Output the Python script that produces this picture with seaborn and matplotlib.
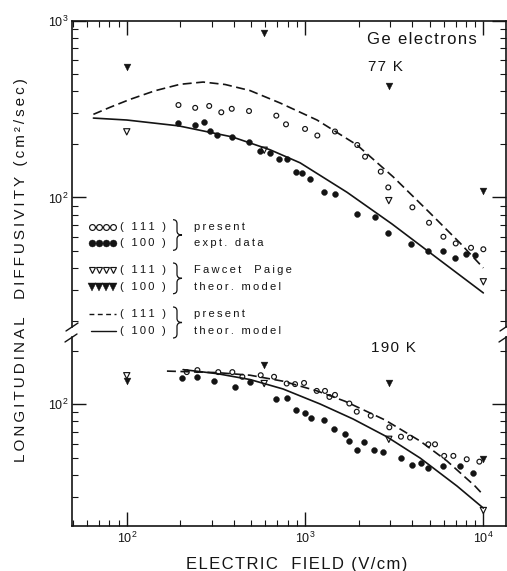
import numpy as np
import pandas as pd
import matplotlib
matplotlib.use("Agg")
import matplotlib.pyplot as plt
from matplotlib.path import Path
from matplotlib.patches import PathPatch
from matplotlib.lines import Line2D
from matplotlib.ticker import LogLocator, NullFormatter
import seaborn as sns

# ---------------- 77 K ----------------
# present experimental data, <111> (open circles) and <100> (filled circles)
e77_111_field = [195, 242, 290, 339, 388, 485, 690, 782, 1000, 1172, 1472, 1963, 2171, 2659,
                 2930, 4000, 4960, 5970, 7000, 8530, 10000]
e77_111_diff = [333, 321, 329, 303, 317, 308, 290, 259, 244, 224, 236, 198, 170, 140,
                114, 88, 72, 60, 55, 52, 51]
e77_100_field = [195, 242, 272, 293, 320, 388, 485, 559, 636, 718, 789, 887, 966, 1071, 1273,
                 1479, 1963, 2470, 2930, 3930, 4915, 5970, 6940, 8000, 8980]
e77_100_diff = [262, 257, 268, 238, 225, 219, 206, 183, 179, 166, 166, 139, 138, 128, 107,
                104, 80.4, 77.9, 63.2, 54.8, 50, 50, 45.5, 48.1, 47.3]
# Fawcett-Paige model points
fp77_field = [100, 590, 2950, 10000]
fp77_111 = [235, 185, 96, 33.4]
fp77_100 = [548, 847, 427, 109]
# present theoretical model curves
th77_111_field = [65, 81, 104, 144, 199, 268, 356, 491, 724, 1167, 1957, 3116, 5023, 7402, 10000]
th77_111_diff = [295, 324, 358, 401, 436, 449, 435, 402, 342, 274, 198, 131, 81.7, 55.3, 40]
th77_100_field = [65, 100, 195, 390, 637, 938, 1720, 3077, 5500, 10000]
th77_100_diff = [281, 274, 254, 220, 186, 157, 107, 70.8, 45.5, 28.9]

# ---------------- 190 K ----------------
e190_111_field = [217, 249, 326, 391, 445, 564, 670, 789, 879, 987, 1163, 1294, 1370, 1472,
                  1772, 1950, 2336, 2970, 3451, 3880, 4915, 5358, 6030, 6790, 8070, 9500]
e190_111_diff = [152, 156, 152, 152, 143, 146, 143, 131, 130, 132, 119, 119, 110, 113,
                 101, 90.8, 86.2, 74.1, 65.6, 64.8, 59.4, 59.4, 51.1, 51.1, 48.9, 47.4]
e190_100_field = [205, 247, 310, 405, 491, 685, 789, 887, 1000, 1085, 1278, 1455, 1676, 1772,
                  1950, 2150, 2448, 2748, 3451, 4000, 4453, 4915, 5970, 7400, 8720]
e190_100_diff = [140, 142, 135, 126, 134, 107, 108, 92.9, 89, 83.4, 81.5, 72.2, 67.7, 62.3,
                 55.2, 61, 55.2, 54, 49.5, 45.4, 46.8, 43.8, 44.8, 44.8, 41.1]
fp190_field = [100, 590, 2950, 10000]
fp190_111 = [145, 131, 63.4, 25.1]
fp190_100 = [135, 167, 132, 49.1]
th190_111_field = [168, 321, 491, 753, 1167, 1676, 2810, 4418, 6257, 8980, 10000]
th190_111_diff = [154, 151, 146, 135, 119, 104, 81.5, 62, 47.8, 34.5, 30.7]
th190_100_field = [207, 321, 491, 753, 1214, 1858, 2885, 4418, 7120, 10000]
th190_100_diff = [157, 149, 138, 122, 100.4, 82.6, 65.4, 49.7, 34.5, 25.9]

legend_orient = ["( 111 )", "( 100 )"]
legend_groups = [("present", "expt. data"), ("Fawcet  Paige", "theor. model"),
                 ("present", "theor. model")]

INK = "#141414"
DASH = (0, (5.4, 2.7))

sns.set_style("ticks")
plt.rcParams["font.family"] = ["Liberation Sans", "DejaVu Sans"]
plt.rcParams["mathtext.default"] = "regular"


def tracked(s, gap="\u2009"):
    return gap.join(s)


def df(x, y):
    return pd.DataFrame({"field": x, "diff": y})


W, H = 507, 571
fig = plt.figure(figsize=(W / 100, H / 100), dpi=100)


def box(left, top, right, bottom):
    return [left / W, 1 - bottom / H, (right - left) / W, (bottom - top) / H]


ax_hi = fig.add_axes(box(72, 20.5, 506, 327))
ax_lo = fig.add_axes(box(72, 337, 506, 525.7))

panels = [
    (ax_hi, (e77_111_field, e77_111_diff), (e77_100_field, e77_100_diff),
     (fp77_field, fp77_111, fp77_100),
     (th77_111_field, th77_111_diff), (th77_100_field, th77_100_diff), (18.55, 1000)),
    (ax_lo, (e190_111_field, e190_111_diff), (e190_100_field, e190_100_diff),
     (fp190_field, fp190_111, fp190_100),
     (th190_111_field, th190_111_diff), (th190_100_field, th190_100_diff), (20.6, 240)),
]

for ax, o111, f100, fp, t111, t100, ylim in panels:
    sns.lineplot(data=df(*t100), x="field", y="diff", ax=ax, color=INK, lw=1.2,
                 estimator=None, sort=False)
    sns.lineplot(data=df(*t111), x="field", y="diff", ax=ax, color=INK, lw=1.2,
                 estimator=None, sort=False, linestyle=DASH)
    sns.scatterplot(data=df(*o111), x="field", y="diff", ax=ax, marker="o", s=12,
                    facecolor="none", edgecolor=INK, linewidth=0.85, zorder=4)
    sns.scatterplot(data=df(*f100), x="field", y="diff", ax=ax, marker="o", s=18,
                    color=INK, edgecolor=INK, linewidth=0.3, zorder=4)
    sns.scatterplot(data=df(fp[0], fp[1]), x="field", y="diff", ax=ax, marker="v", s=20,
                    facecolor="none", edgecolor=INK, linewidth=0.85, zorder=4)
    sns.scatterplot(data=df(fp[0], fp[2]), x="field", y="diff", ax=ax, marker="v", s=24,
                    color=INK, edgecolor=INK, linewidth=0.3, zorder=4)
    ax.set(xscale="log", yscale="log", xlim=(49.3, 13400), ylim=ylim, xlabel="", ylabel="")
    ax.xaxis.set_major_locator(LogLocator(base=10))
    ax.xaxis.set_minor_locator(LogLocator(base=10, subs=np.arange(2, 10)))
    ax.yaxis.set_major_locator(LogLocator(base=10))
    ax.yaxis.set_minor_locator(LogLocator(base=10, subs=np.arange(2, 10)))
    ax.xaxis.set_minor_formatter(NullFormatter())
    ax.yaxis.set_minor_formatter(NullFormatter())
    ax.tick_params(which="both", direction="in", colors=INK, right=True, labelsize=9)
    ax.tick_params(which="major", length=10, width=1.0)
    ax.tick_params(which="minor", length=4, width=0.8)
    ax.tick_params(axis="y", pad=2.5)
    for sp in ax.spines.values():
        sp.set_linewidth(1.2)
        sp.set_color(INK)
    ax.patch.set_alpha(0)

ax_hi.spines["bottom"].set_visible(False)
ax_hi.tick_params(axis="x", which="both", bottom=False, top=True, labelbottom=False)
ax_lo.spines["top"].set_visible(False)
ax_lo.tick_params(axis="x", which="both", bottom=True, top=False, pad=4)

# overlay in pixel units for annotations, legend and axis break marks
ov = fig.add_axes([0, 0, 1, 1], zorder=10)
ov.set_xlim(0, W)
ov.set_ylim(H, 0)
ov.axis("off")
ov.patch.set_alpha(0)

ov.text(422, 40, tracked("Ge electrons", "\u200a"), ha="center", va="center",
        fontsize=12, color=INK)
ov.text(385, 67, tracked("77 K", "\u200a"), ha="center", va="center", fontsize=11, color=INK)
ov.text(393, 348, tracked("190 K", "\u200a"), ha="center", va="center", fontsize=11, color=INK)

ov.text(297, 564, tracked("ELECTRIC  FIELD (V/cm)", "\u200a"), ha="center", va="center",
        fontsize=12, color=INK)
ov.text(21, 270, tracked("LONGITUDINAL  DIFFUSIVITY (cm²/sec)", "\u2009"), ha="center",
        va="center", rotation=90, fontsize=11, color=INK)

# legend
rows = [226.7, 243.3, 270, 286.7, 314, 331]
sym_x = [92, 99, 106, 113]
ov.plot(sym_x, [rows[0]] * 4, ls="none", marker="o", ms=4.2, mfc="none", mec=INK, mew=0.85)
ov.plot(sym_x, [rows[1]] * 4, ls="none", marker="o", ms=5.0, mfc=INK, mec=INK, mew=0.3)
ov.plot(sym_x, [rows[2]] * 4, ls="none", marker="v", ms=5.0, mfc="none", mec=INK, mew=0.85)
ov.plot(sym_x, [rows[3]] * 4, ls="none", marker="v", ms=5.3, mfc=INK, mec=INK, mew=0.3)
ov.plot([89, 116], [rows[4]] * 2, color=INK, lw=1.0, ls=(0, (3.5, 2.5)))
ov.plot([91, 116], [rows[5]] * 2, color=INK, lw=1.0)
for i, y in enumerate(rows):
    ov.text(120, y, tracked(legend_orient[i % 2]), ha="left", va="center", fontsize=8,
            color=INK)


def brace(x0, top, bottom):
    mid = (top + bottom) / 2
    xm, xt, r = x0 + 4, x0 + 9, 4
    verts = [(x0, top), (xm, top), (xm, top + r), (xm, mid - r), (xm, mid), (xt, mid),
             (xm, mid), (xm, mid + r), (xm, bottom - r), (xm, bottom), (x0, bottom)]
    codes = [Path.MOVETO, Path.CURVE3, Path.CURVE3, Path.LINETO, Path.CURVE3, Path.CURVE3,
             Path.CURVE3, Path.CURVE3, Path.LINETO, Path.CURVE3, Path.CURVE3]
    ov.add_patch(PathPatch(Path(verts, codes), fill=False, ec=INK, lw=0.9))


for g, (a, b) in enumerate(legend_groups):
    y1, y2 = rows[2 * g], rows[2 * g + 1]
    brace(173, y1 - 7, y2 + 7)
    ov.text(194, y1, tracked(a), ha="left", va="center", fontsize=8, color=INK)
    ov.text(194, y2, tracked(b), ha="left", va="center", fontsize=8, color=INK)

# axis break marks
for x in (72, 506):
    ov.add_line(Line2D([x - 6, x + 6], [331, 323], color=INK, lw=1.0))
    ov.add_line(Line2D([x - 7, x + 5], [342, 334], color=INK, lw=1.0))

fig.savefig("out.png", dpi=100)
